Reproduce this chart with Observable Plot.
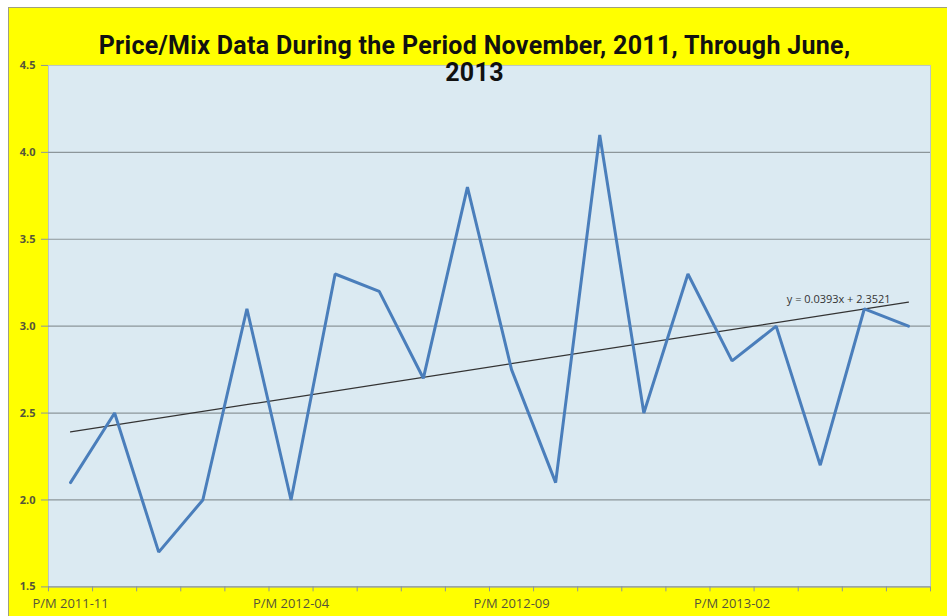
<!DOCTYPE html>
<html>
<head>
<meta charset="utf-8">
<script src="https://cdn.jsdelivr.net/npm/d3@7"></script>
<script src="https://cdn.jsdelivr.net/npm/@observablehq/plot@0.6"></script>
<style>
  html, body { margin: 0; padding: 0; background: #ffffff; }
  #frame {
    position: absolute; left: 8px; top: 7px; width: 939px; height: 609px;
    background: #ffff00; border-left: 1px solid #a0a080; border-top: 1px solid #a0a080;
    box-sizing: border-box; overflow: hidden;
  }
  #chart { position: absolute; left: 0; top: 0; }
  #title {
    position: absolute; left: 0; top: 24px; width: 931px; text-align: center;
    font-family: Roboto, "Open Sans", sans-serif;
    font-weight: bold; font-size: 25px; letter-spacing: 0.3px; line-height: 27px; color: #111;
    z-index: 2; pointer-events: none;
  }
</style>
</head>
<body>
<div id="frame">
  <div id="chart"></div>
  <div id="title">Price/Mix Data During the Period November, 2011, Through June,<br>2013</div>
</div>
<script>
const months = ["2011-11","2011-12","2012-01","2012-02","2012-03","2012-04","2012-05","2012-06","2012-07","2012-08",
                "2012-09","2012-10","2012-11","2012-12","2013-01","2013-02","2013-03","2013-04","2013-05","2013-06"];
const values = [2.1, 2.5, 1.7, 2.0, 3.1, 2.0, 3.3, 3.2, 2.7, 3.8,
                2.75, 2.1, 4.1, 2.5, 3.3, 2.8, 3.0, 2.2, 3.1, 3.0];
const labelPrefix = "P/M ";
const labeledIndices = [1, 6, 11, 16];
const yTicks = [1.5, 2.0, 2.5, 3.0, 3.5, 4.0, 4.5];
const gridTicks = [2.0, 2.5, 3.0, 3.5, 4.0];
const trendSlope = 0.0393;
const trendIntercept = 2.3521;
const trendLabel = "y = 0.0393x + 2.3521";

const data = values.map((v, i) => ({i: i + 1, month: months[i], value: v}));
const trend = [1, months.length].map(i => ({i, value: trendSlope * i + trendIntercept}));
const boundaries = d3.range(0.5, months.length + 1, 1);

const font = '"Open Sans", Roboto, sans-serif';

const chart = Plot.plot({
  width: 939,
  height: 609,
  marginLeft: 39,
  marginTop: 57,
  marginRight: 17,
  marginBottom: 30,
  style: {background: "transparent", fontFamily: font, fontSize: "12px", color: "#55553a"},
  x: {domain: [0.5, months.length + 0.5], axis: null, label: null},
  y: {domain: [1.5, 4.5], axis: null, label: null},
  marks: [
    Plot.frame({fill: "#dbeaf2", stroke: "#b8c4c8"}),
    Plot.ruleY(gridTicks, {stroke: "#8c969a", strokeWidth: 1.2}),
    Plot.ruleY([1.5], {stroke: "#8c969a", strokeWidth: 1.2}),
    Plot.axisY(yTicks, {label: null, tickSize: 7, tickPadding: 6, tickFormat: d => d.toFixed(1), stroke: "#8c969a", fill: "#55553a", fontWeight: "bold", fontSize: 11}),
    Plot.axisX(boundaries, {label: null, tickSize: 5, tickFormat: () => "", stroke: "#8c969a"}),
    Plot.axisX(labeledIndices, {label: null, tickSize: 0, tickPadding: 12, tickFormat: d => labelPrefix + months[d - 1], fill: "#55553a", fontSize: 13}),
    Plot.line(trend, {x: "i", y: "value", stroke: "#333", strokeWidth: 1.2}),
    Plot.line(data, {x: "i", y: "value", stroke: "#4a7ebb", strokeWidth: 3, strokeLinejoin: "miter"}),
    Plot.text([trend[1]], {x: "i", y: "value", text: () => trendLabel, textAnchor: "end", dx: -18, dy: -3, fill: "#333", fontSize: 11})
  ]
});
document.getElementById("chart").appendChild(chart);
</script>
</body>
</html>
